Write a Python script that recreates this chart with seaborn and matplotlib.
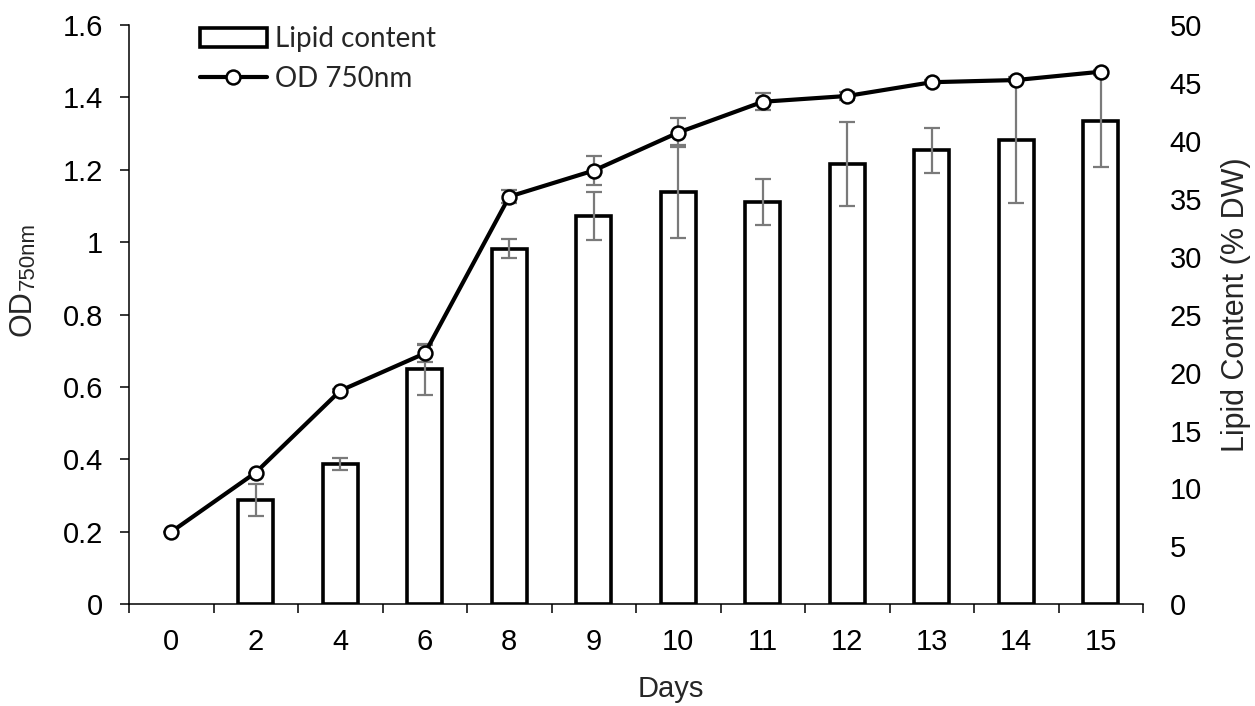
import numpy as np
import pandas as pd
import matplotlib
matplotlib.use("Agg")
import matplotlib.pyplot as plt
import seaborn as sns
from matplotlib.patches import Patch
from matplotlib.lines import Line2D
from matplotlib.ticker import FuncFormatter, FixedLocator

# ---- data ----
days = ["0", "2", "4", "6", "8", "9", "10", "11", "12", "13", "14", "15"]
lipid = [np.nan, 9.0, 12.1, 20.3, 30.7, 33.5, 35.6, 34.75, 38.0, 39.2, 40.1, 41.7]
lipid_err = [0, 1.35, 0.5, 2.2, 0.8, 2.1, 4.0, 2.0, 3.6, 1.95, 5.45, 3.95]
od = [0.20, 0.364, 0.59, 0.693, 1.126, 1.198, 1.303, 1.388, 1.404, 1.442, 1.448, 1.471]
od_err = [0, 0, 0.005, 0.024, 0.018, 0.039, 0.04, 0.023, 0.01, 0.005, 0.005, 0.005]
od_ticks = [0, 0.2, 0.4, 0.6, 0.8, 1.0, 1.2, 1.4, 1.6]
lipid_ticks = [0, 5, 10, 15, 20, 25, 30, 35, 40, 45, 50]

sns.set_theme(style="white")
plt.rcParams["font.family"] = ["Liberation Sans", "DejaVu Sans"]
plt.rcParams["mathtext.default"] = "regular"

FS = 21
df = pd.DataFrame({"Days": days, "Lipid": lipid})
pos = np.arange(len(days))

fig = plt.figure(figsize=(12.55, 7.06), dpi=100)
ax = fig.add_axes([129 / 1255, 1 - 604.3 / 706, (1143 - 129) / 1255, (604.3 - 25) / 706])

sns.barplot(data=df, x="Days", y="Lipid", order=days, ax=ax, width=0.42,
            color="white", edgecolor="black", linewidth=2.6, saturation=1, errorbar=None)
ax.errorbar(pos, lipid, yerr=lipid_err, fmt="none", ecolor="#7a7a7a",
            elinewidth=1.6, capsize=5.5, capthick=1.6, zorder=5)
ax.set_ylim(0, 50)
ax.set_xlim(-0.5, len(days) - 0.5)
ax.set_xlabel("")
ax.set_ylabel("")

# x ticks: labels at centers, tick marks at boundaries
ax.set_xticks(pos)
ax.set_xticklabels(days)
ax.xaxis.set_minor_locator(FixedLocator(np.arange(-0.5, len(days), 1.0)))
ax.tick_params(axis="x", which="major", length=0, pad=17, labelsize=FS, colors="black")
ax.tick_params(axis="x", which="minor", bottom=True, length=6.5, width=1.1,
               direction="out", color="black")

for s in ["top", "right", "left"]:
    ax.spines[s].set_visible(False)
ax.spines["bottom"].set_color("black")
ax.spines["bottom"].set_linewidth(1.1)

# line on twin axis (left)
ax2 = ax.twinx()
ax2.errorbar(pos, od, yerr=od_err, fmt="none", ecolor="#7a7a7a",
             elinewidth=1.6, capsize=5.5, capthick=1.6, zorder=2)
sns.lineplot(x=pos, y=od, ax=ax2, color="black", linewidth=3.0, marker="o",
             markersize=10, markerfacecolor="white", markeredgecolor="black",
             markeredgewidth=1.8, sort=False, zorder=3)
ax2.set_ylim(0, 1.6)
ax2.set_yticks(od_ticks)
ax2.yaxis.set_major_formatter(FuncFormatter(lambda v, p: "%g" % round(v, 2)))
ax2.yaxis.tick_left()
ax2.yaxis.set_label_position("left")
ax2.tick_params(axis="y", length=6.5, width=1.1, direction="out", pad=12,
                labelsize=FS, labelleft=True, labelright=False, color="black",
                labelcolor="black", left=True, right=False)
ax2.set_xlim(-0.5, len(days) - 0.5)
for s in ["top", "right", "bottom"]:
    ax2.spines[s].set_visible(False)
ax2.spines["left"].set_color("black")
ax2.spines["left"].set_linewidth(1.1)
ax2.set_ylabel("")

# bars axis: ticks on the right (after twinx, which resets it)
ax.set_yticks(lipid_ticks)
ax.yaxis.tick_right()
ax.tick_params(axis="y", which="both", length=0, pad=19, labelsize=FS,
               labelright=True, labelleft=False, left=False, right=False,
               colors="black")

# axis labels
fig.text(671 / 1255, 1 - 689 / 706, "Days", ha="center", va="center", fontsize=FS)
fig.text(22 / 1255, 1 - 290 / 706, "OD", ha="center", va="top",
         rotation=90, fontsize=22)
fig.text(28 / 1255, 1 - 290 / 706, "750nm", ha="center", va="bottom",
         rotation=90, fontsize=16)
fig.text(1236 / 1255, 1 - 305 / 706, "Lipid Content (% DW)", ha="center", va="center",
         rotation=90, fontsize=22)

# legend
handles = [Patch(facecolor="white", edgecolor="black", linewidth=2.6),
           Line2D([], [], color="black", linewidth=3.0, marker="o", markersize=10,
                  markerfacecolor="white", markeredgecolor="black", markeredgewidth=1.8)]
leg = ax2.legend(handles, ["Lipid content", "OD 750nm"], loc="upper left",
                 bbox_to_anchor=(200 / 1255, 1 - 26 / 706), bbox_transform=fig.transFigure,
                 frameon=False, borderpad=0, borderaxespad=0, handlelength=2.4,
                 handleheight=0.7, handletextpad=0.3, labelspacing=0.5,
                 prop={"family": ["Lato", "DejaVu Sans"], "size": 20})

fig.savefig("out.png", dpi=100)
